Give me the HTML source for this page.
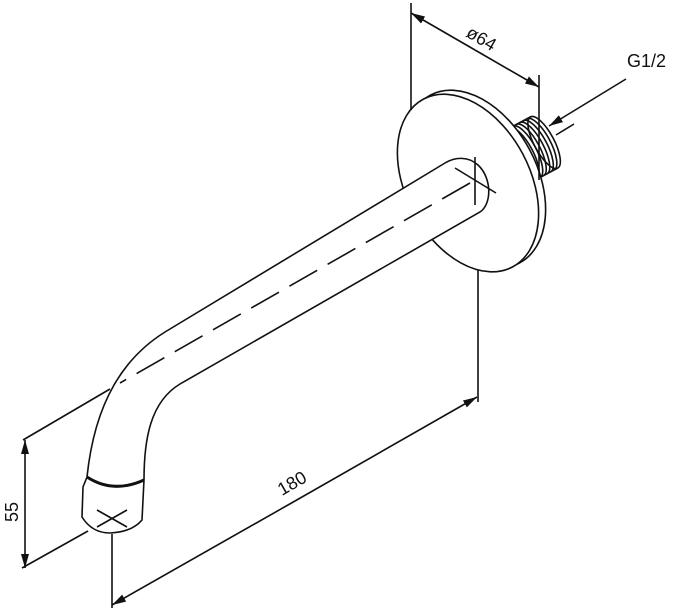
<!DOCTYPE html>
<html><head><meta charset="utf-8"><style>
html,body{margin:0;padding:0;background:#fff;width:680px;height:613px;overflow:hidden}
svg{display:block}
text{font-family:"Liberation Sans",sans-serif;font-size:18px;fill:#111}
</style></head><body>
<svg width="680" height="613" viewBox="0 0 680 613" xmlns="http://www.w3.org/2000/svg">
<defs>
<marker id="a" markerWidth="14" markerHeight="8" refX="14" refY="4" orient="auto" markerUnits="userSpaceOnUse">
<path d="M0,0 L14,4 L0,8 Z" fill="#111"/></marker>
</defs>
<g stroke="#111" stroke-width="1.6" fill="none">
<!-- thread -->
<g transform="translate(530,150) rotate(-28)">
<rect x="-20" y="-29" width="36" height="58" fill="#fff" stroke="none"/>
<line x1="-20" y1="-29" x2="16" y2="-29"/>
<line x1="-20" y1="29" x2="16" y2="29"/>
<ellipse cx="16" cy="0" rx="10" ry="29" fill="#fff"/>
<path d="M-16,-29 A10,29 0 0 1 -16,29"/>
<path d="M-12,-29 A10,29 0 0 1 -12,29"/>
<path d="M-8,-29 A10,29 0 0 1 -8,29"/>
<path d="M-4,-29 A10,29 0 0 1 -4,29"/>
<path d="M0,-29 A10,29 0 0 1 0,29"/>
<path d="M4,-29 A10,29 0 0 1 4,29"/>
<path d="M8,-29 A10,29 0 0 1 8,29"/>
<path d="M12,-29 A10,29 0 0 1 12,29"/>
</g>
<line x1="556" y1="135" x2="574" y2="124"/>
<!-- flange -->
<ellipse cx="475" cy="179" rx="95" ry="62" transform="rotate(62 475 179)" fill="#fff"/>
<ellipse cx="468" cy="183" rx="95" ry="62" transform="rotate(62 468 183)" fill="#fff"/>
<!-- pipe -->
<path d="M445,163 L165,332 C125,357 95,400 87,477 L83,487 L82,517 Q92,533 110,533 Q132,532 142,520 L144,480 C144,440 150,402 180,384 L480,212 C492,204 492,178 478,165 C468,156 455,157 445,163 Z" fill="#fff"/>
<path d="M87,477 Q113,494 144,480" stroke-width="3"/>
<line x1="97" y1="510" x2="127" y2="527"/>
<line x1="97" y1="527" x2="127" y2="510"/>
<!-- centre lines -->
<line x1="475" y1="157" x2="475" y2="205"/>
<line x1="455" y1="168" x2="496" y2="193"/>
<line x1="470" y1="183" x2="120" y2="383" stroke-dasharray="32 12"/>
<line x1="110" y1="389" x2="23" y2="440"/>
<!-- 55 dim -->
<line x1="88" y1="531" x2="22" y2="568"/>
<line x1="25" y1="505" x2="25" y2="440" marker-end="url(#a)"/>
<line x1="25" y1="505" x2="25" y2="568" marker-end="url(#a)"/>
<!-- 180 dim -->
<line x1="112" y1="534" x2="112" y2="608"/>
<line x1="478" y1="270" x2="478" y2="402"/>
<line x1="295" y1="501" x2="477" y2="397" marker-end="url(#a)"/>
<line x1="295" y1="501" x2="112" y2="605" marker-end="url(#a)"/>
<!-- ø64 dim -->
<line x1="411" y1="3" x2="411" y2="110"/>
<line x1="539" y1="75" x2="539" y2="180"/>
<line x1="475" y1="50" x2="411" y2="13" marker-end="url(#a)"/>
<line x1="475" y1="50" x2="539" y2="87" marker-end="url(#a)"/>
<!-- G1/2 leader -->
<line x1="626" y1="79" x2="549" y2="126" marker-end="url(#a)"/>
</g>
<text x="465" y="36" transform="rotate(30 465 36)">ø64</text>
<text x="627" y="67">G1/2</text>
<text x="18" y="522" transform="rotate(-90 18 522)">55</text>
<text x="282" y="496" transform="rotate(-30 282 496)">180</text>
</svg>
</body></html>
